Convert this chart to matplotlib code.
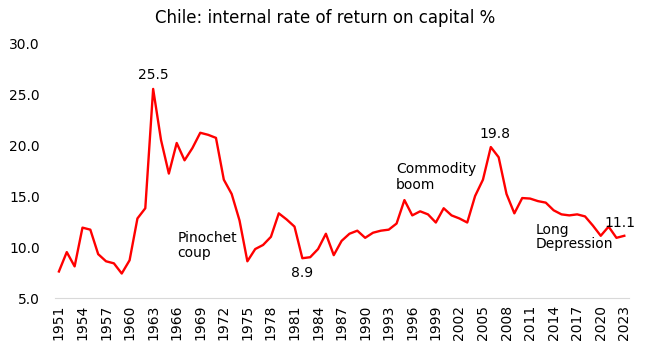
import matplotlib
matplotlib.use("Agg")
import matplotlib.pyplot as plt

years = list(range(1951, 2024))
irr = [7.6, 9.5, 8.1, 11.9, 11.7, 9.3, 8.6, 8.4, 7.4, 8.7,
       12.8, 13.8, 25.5, 20.5, 17.2, 20.2, 18.5, 19.7, 21.2, 21.0,
       20.7, 16.6, 15.2, 12.6, 8.6, 9.8, 10.2, 11.0, 13.3, 12.7,
       12.0, 8.9, 9.0, 9.8, 11.3, 9.2, 10.6, 11.3, 11.6, 10.9,
       11.4, 11.6, 11.7, 12.3, 14.6, 13.1, 13.5, 13.2, 12.4, 13.8,
       13.1, 12.8, 12.4, 15.0, 16.6, 19.8, 18.8, 15.2, 13.3, 14.8,
       14.75, 14.5, 14.35, 13.6, 13.2, 13.1, 13.2, 13.0, 12.1, 11.1,
       12.0, 10.9, 11.1]
yticks = [5, 10, 15, 20, 25, 30]
xticks = list(range(1951, 2024, 3))
title = "Chile: internal rate of return on capital %"
notes = [(1963, 26.2, "25.5", "center", "bottom"),
         (1966.1, 11.6, "Pinochet\ncoup", "left", "top"),
         (1982.0, 7.45, "8.9", "center", "center"),
         (1993.9, 18.3, "Commodity\nboom", "left", "top"),
         (2006.5, 21.1, "19.8", "center", "center"),
         (2011.7, 12.35, "Long", "left", "top"),
         (2011.7, 10.95, "Depression", "left", "top"),
         (2022.4, 12.35, "11.1", "center", "center")]

fig = plt.figure(figsize=(6.5, 3.52), dpi=100)
ax = fig.add_axes([0.0846, 0.1534, 0.8831, 0.7244])
ax.plot(years, irr, color="#ff0000", lw=1.7)
ax.set_xlim(1950.5, 2023.6)
ax.set_ylim(5, 30)
ax.set_yticks(yticks)
ax.set_yticklabels([f"{v:.1f}" for v in yticks], fontsize=10)
ax.set_xticks(xticks)
ax.set_xticklabels([str(x) for x in xticks], rotation=90, fontsize=10)
for s in ["top", "right", "left"]:
    ax.spines[s].set_visible(False)
ax.spines["bottom"].set_color("#d9d9d9")
ax.tick_params(axis="both", length=0)
ax.tick_params(axis="y", pad=11)
ax.tick_params(axis="x", pad=5)
for x, y, t, ha, va in notes:
    ax.text(x, y, t, ha=ha, va=va, fontsize=10, linespacing=1.15)
fig.text(0.5, 0.95, title, ha="center", va="center", fontsize=12)
fig.savefig("out.png", dpi=100)
